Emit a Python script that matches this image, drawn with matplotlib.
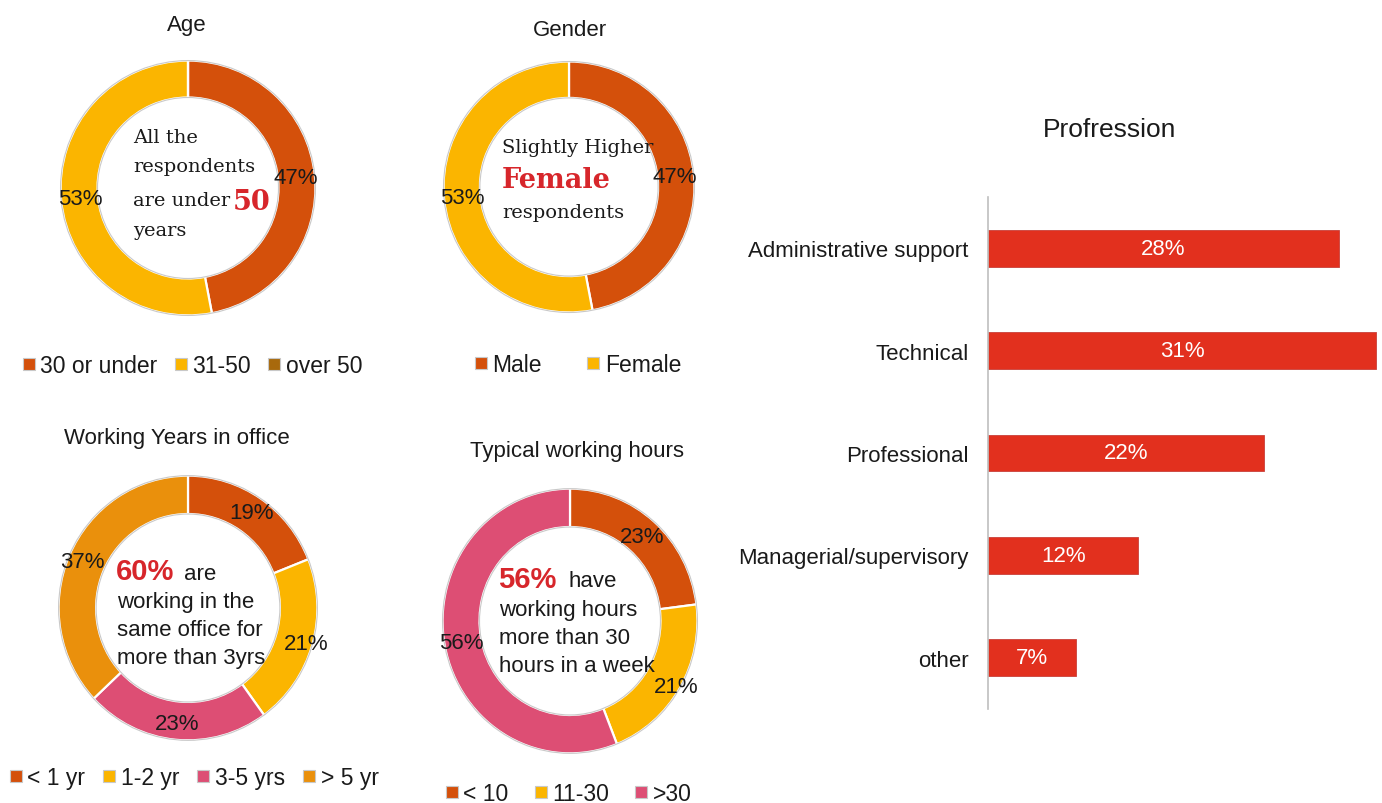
import numpy as np
import matplotlib
matplotlib.use("Agg")
import matplotlib.pyplot as plt
from matplotlib.lines import Line2D
from matplotlib.patches import Ellipse

plt.rcParams['font.family'] = ['Liberation Sans', 'DejaVu Sans']

# ---- data ----
age_labels = ["30 or under", "31-50", "over 50"]
age_values = [47, 53, 0]

gender_labels = ["Male", "Female"]
gender_values = [47, 53]

years_labels = ["< 1 yr", "1-2 yr", "3-5 yrs", "> 5 yr"]
years_values = [19, 21, 23, 37]

hours_labels = ["< 10", "11-30", ">30"]
hours_values = [23, 21, 56]

profession_labels = ["Administrative support", "Technical", "Professional",
                     "Managerial/supervisory", "other"]
profession_values = [28, 31, 22, 12, 7]

# ---- style ----
DARK_ORANGE = "#D4500B"
YELLOW = "#FBB500"
BROWN = "#A8690C"
PINK = "#DD4E74"
ORANGE = "#EA900C"
BAR_RED = "#E2301E"
TEXT_RED = "#D7262B"
TXT = "#1a1a1a"

W, H = 1382, 804
fig = plt.figure(figsize=(W / 100, H / 100), dpi=100)
fig.patch.set_facecolor("white")


def fx(x):
    return x / W


def fy(y):
    return 1 - y / H


def donut(cx, cy, rx, ry, values, colors, lab_r, ring=0.29):
    ax = fig.add_axes([fx(cx - rx), fy(cy + ry), 2 * rx / W, 2 * ry / H])
    ax.pie(values, colors=colors, startangle=90, counterclock=False,
           wedgeprops=dict(width=ring, edgecolor="white", linewidth=1.6))
    ax.set_aspect("auto")
    ax.set_xlim(-1.02, 1.02)
    ax.set_ylim(-1.02, 1.02)
    for r in (1.0, 1.0 - ring):
        ax.add_patch(Ellipse((0, 0), 2 * r, 2 * r, fill=False,
                             edgecolor="#c9c9c9", linewidth=0.8, zorder=5))
    total = float(sum(values))
    cum = 0.0
    for v, r in zip(values, lab_r):
        if v > 0:
            ang = np.deg2rad(90 - 360 * (cum + v / 2) / total)
            ax.text(r * np.cos(ang), r * np.sin(ang), f"{v}%", ha="center",
                    va="center", fontsize=16, color=TXT, zorder=6)
        cum += v
    ax.axis("off")
    return ax


def legend(labels, colors, x, y, colspace):
    handles = [Line2D([], [], marker="s", linestyle="none", markersize=8.5,
                      markerfacecolor=c, markeredgecolor="#c8c8c8",
                      markeredgewidth=0.8) for c in colors]
    fig.legend(handles, labels, loc="center left",
               bbox_to_anchor=(fx(x), fy(y)), ncol=len(labels), frameon=False,
               fontsize=16.5, handlelength=0.6, handletextpad=0.2,
               columnspacing=colspace, borderpad=0, borderaxespad=0,
               labelcolor=TXT)


# ---- Age ----
fig.text(fx(187), fy(26), "Age", ha="center", va="center", fontsize=16, color=TXT)
donut(188, 189, 130, 130, age_values, [DARK_ORANGE, YELLOW, BROWN], [0.85, 0.85, 0.85])
serif = dict(family="DejaVu Serif", color=TXT, fontsize=14, va="center", ha="left")
fig.text(fx(133), fy(138), "All the", **serif)
fig.text(fx(133), fy(167), "respondents", **serif)
fig.text(fx(133), fy(201), "are under", **serif)
fig.text(fx(233), fy(202), "50", family="DejaVu Serif", fontweight="bold",
         color=TEXT_RED, fontsize=19.5, va="center", ha="left")
fig.text(fx(133), fy(231), "years", **serif)
legend(age_labels, [DARK_ORANGE, YELLOW, BROWN], 22, 367, 0.72)

# ---- Gender ----
fig.text(fx(570), fy(30), "Gender", ha="center", va="center", fontsize=16, color=TXT)
donut(569, 188, 128, 128, gender_values, [DARK_ORANGE, YELLOW], [0.85, 0.85])
fig.text(fx(502), fy(148), "Slightly Higher", **serif)
fig.text(fx(502), fy(180), "Female", family="DejaVu Serif", fontweight="bold",
         color=TEXT_RED, fontsize=19.5, va="center", ha="left")
fig.text(fx(502), fy(213), "respondents", **serif)
legend(gender_labels, [DARK_ORANGE, YELLOW], 474, 366, 1.95)

# ---- Working years ----
fig.text(fx(177), fy(439), "Working Years in office", ha="center", va="center",
         fontsize=16, color=TXT)
donut(188, 609, 132, 135, years_values, [DARK_ORANGE, YELLOW, PINK, ORANGE],
      [0.87, 0.95, 0.88, 0.89])
sans = dict(color=TXT, fontsize=16, va="center", ha="left")
fig.text(fx(116), fy(572), "60%", fontweight="bold", color=TEXT_RED, fontsize=21,
         va="center", ha="left")
fig.text(fx(184), fy(574), "are", **sans)
fig.text(fx(117), fy(603), "working in the", **sans)
fig.text(fx(117), fy(631), "same office for", **sans)
fig.text(fx(117), fy(659), "more than 3yrs", **sans)
legend(years_labels, [DARK_ORANGE, YELLOW, PINK, ORANGE], 9, 779, 0.75)

# ---- Typical working hours ----
fig.text(fx(577), fy(452), "Typical working hours", ha="center", va="center",
         fontsize=16, color=TXT)
donut(570, 622, 130, 135, hours_values, [DARK_ORANGE, YELLOW, PINK],
      [0.85, 0.97, 0.87])
fig.text(fx(498), fy(580), "56%", fontweight="bold", color=TEXT_RED, fontsize=21,
         va="center", ha="left")
fig.text(fx(568), fy(582), "have", **sans)
fig.text(fx(499), fy(611), "working hours", **sans)
fig.text(fx(499), fy(639), "more than 30", **sans)
fig.text(fx(499), fy(667), "hours in a week", **sans)
legend(hours_labels, [DARK_ORANGE, YELLOW, PINK], 445, 795, 1.1)

# ---- Profession bars ----
fig.text(fx(1110), fy(130), "Profression", ha="center", va="center", fontsize=19,
         color=TXT)
bx = fig.add_axes([fx(988), fy(710), (1380 - 988) / W, (710 - 198) / H])
ypos = np.arange(len(profession_labels))
bars = bx.barh(ypos, profession_values, height=0.36, color=BAR_RED,
               edgecolor="#c9403a", linewidth=0.6)
for b, v in zip(bars, profession_values):
    bx.text(b.get_width() / 2, b.get_y() + b.get_height() / 2, f"{v}%",
            ha="center", va="center", color="white", fontsize=16)
bx.set_xlim(0, 31.3)
bx.set_ylim(len(profession_labels) - 0.5, -0.5)
bx.set_yticks(ypos)
bx.set_yticklabels(profession_labels, fontsize=16, color=TXT)
bx.tick_params(axis="y", length=0, pad=14)
bx.set_xticks([])
for s in ("top", "right", "bottom"):
    bx.spines[s].set_visible(False)
bx.spines["left"].set_color("#bfbfbf")
bx.spines["left"].set_linewidth(1.2)

fig.savefig("out.png", dpi=100, facecolor="white")
